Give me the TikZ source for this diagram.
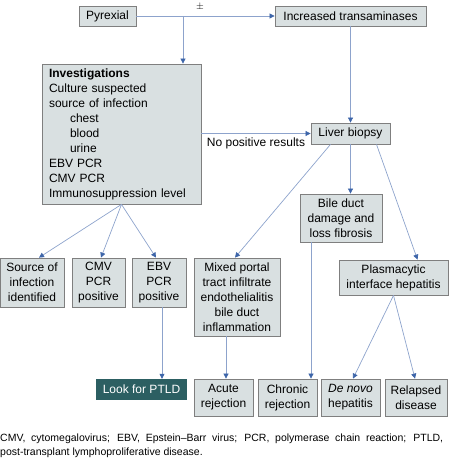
\documentclass[tikz,border=0pt]{standalone}
\usepackage{fontspec}
\setmainfont{Liberation Sans}
\usepackage{tikz}
\usetikzlibrary{positioning,arrows.meta,calc}

\definecolor{boxfill}{HTML}{D9E0E1}
\definecolor{boxline}{HTML}{7F7F7F}
\definecolor{arrline}{HTML}{8DA3CC}
\definecolor{arrtip}{HTML}{3D65A9}
\definecolor{ptldfill}{HTML}{2C5F62}

\begin{document}
\begin{tikzpicture}[
    x=1pt, y=-1pt,
    font=\fontsize{12}{15}\selectfont,
    box/.style={draw=boxline, fill=boxfill, line width=0.8pt, inner sep=0pt, align=center},
    edge/.style={-{Triangle[width=5pt,length=5pt,color=arrtip]}, draw=arrline, line width=0.7pt}
]
\useasboundingbox (0,0) rectangle (448,460);

% top row
\node[box, minimum width=57pt, minimum height=20pt] (pyrexial) at (107.5,16) {Pyrexial};
\node[box, minimum width=151pt, minimum height=20pt] (transam) at (350.5,16) {Increased transaminases};

% investigations
\node[box, minimum width=159pt, minimum height=140pt, text width=145pt, align=left] (invest) at (121.5,134)
  {\textbf{Investigations}\\
   Culture suspected\\
   source of infection\\
   \hspace*{21pt}chest\\
   \hspace*{21pt}blood\\
   \hspace*{21pt}urine\\
   EBV PCR\\
   CMV PCR\\
   Immunosuppression level};

\node[box, minimum width=79pt, minimum height=21pt] (biopsy) at (350.5,133.5) {Liver biopsy};
\node[box, minimum width=82pt, minimum height=48pt] (bileduct) at (341,218) {Bile duct\\damage and\\loss fibrosis};

% results of investigations
\node[box, minimum width=64pt, minimum height=49pt] (source) at (32,282.5) {Source of\\infection\\identified};
\node[box, minimum width=53pt, minimum height=49pt] (cmv) at (98.5,282.5) {CMV\\PCR\\positive};
\node[box, minimum width=54pt, minimum height=49pt] (ebv) at (159,282.5) {EBV\\PCR\\positive};

% biopsy findings
\node[box, minimum width=86pt, minimum height=78pt] (mixed) at (237,297) {Mixed portal\\tract infiltrate\\endothelialitis\\bile duct\\inflammation};
\node[box, minimum width=109pt, minimum height=35pt] (plasma) at (393.5,277.5) {Plasmacytic\\interface hepatitis};

% bottom row
\node[fill=ptldfill, text=white, inner sep=0pt, minimum width=91pt, minimum height=21pt] (ptld) at (141.5,389.5) {Look for PTLD};
\node[box, minimum width=59pt, minimum height=37pt] (acute) at (223.5,397.5) {Acute\\rejection};
\node[box, minimum width=59pt, minimum height=37pt] (chronic) at (287.5,397.5) {Chronic\\rejection};
\node[box, minimum width=59pt, minimum height=37pt] (denovo) at (350.5,397.5) {\textit{De novo}\\hepatitis};
\node[box, minimum width=62pt, minimum height=37pt] (relapsed) at (416,397.5) {Relapsed\\disease};

% connectors
\coordinate (split) at (183,16);
\draw[edge] (pyrexial) -- node[pos=0.46, above=5pt, inner sep=0pt, font=\fontsize{10}{12}\selectfont] {$\pm$} (transam);
\draw[edge] (split) -- (split |- invest.north);
\draw[edge] (transam) -- (biopsy);
\draw[edge] (biopsy.west -| invest.east) -- node[below=1pt] {No positive results} (biopsy.west);

\draw[edge] ([xshift=-20pt]biopsy.south) -- ([xshift=-2pt]mixed.north);
\draw[edge] (biopsy.south) -- (biopsy.south |- bileduct.north);
\draw[edge] ([xshift=26pt]biopsy.south) -- ([xshift=24pt]plasma.north);

\draw[edge] (invest.south) -- ([xshift=7pt]source.north);
\draw[edge] (invest.south) -- ([xshift=2.5pt]cmv.north);
\draw[edge] (invest.south) -- ([xshift=-3pt]ebv.north);

\draw[edge] ([xshift=3pt]ebv.south) -- ([xshift=3pt]ebv.south |- ptld.north);
\draw[edge] ([xshift=-11pt]mixed.south) -- ([xshift=-11pt]mixed.south |- acute.north);
\draw[edge] ([xshift=-30pt]bileduct.south) -- ([xshift=-30pt]bileduct.south |- chronic.north);
\draw[edge] (plasma.south) -- ([xshift=2.5pt]denovo.north);
\draw[edge] (plasma.south) -- ([xshift=-1pt]relapsed.north);

% footnote
\node[anchor=north west, inner sep=0pt, text width=443pt, align=justify, font=\fontsize{10.5}{14}\selectfont] (note) at (0,434)
  {CMV, cytomegalovirus; EBV, Epstein--Barr virus; PCR, polymerase chain reaction; PTLD,\linebreak post-transplant lymphoproliferative disease.};
\end{tikzpicture}
\end{document}
